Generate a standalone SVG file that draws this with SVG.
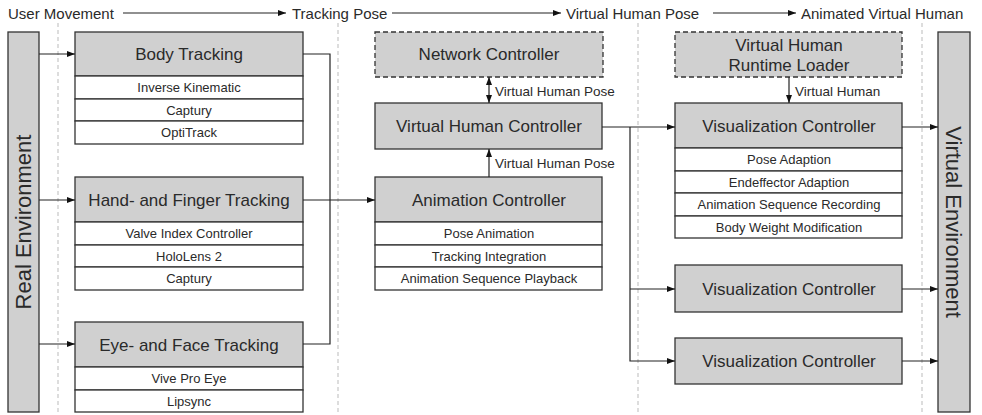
<svg xmlns="http://www.w3.org/2000/svg" width="982" height="415" viewBox="0 0 982 415">
<defs>
<marker id="ah" viewBox="0 0 8 6" refX="8" refY="3" markerWidth="8" markerHeight="6" markerUnits="userSpaceOnUse" orient="auto-start-reverse"><path d="M0,0 L8,3 L0,6 z" fill="#111"/></marker>
</defs>
<style>
text{font-family:"Liberation Sans",Arial,sans-serif;fill:#2a2a2a}
.hd{fill:#d0d0d0;stroke:#333;stroke-width:1.3}
.dh{fill:#d0d0d0;stroke:#333;stroke-width:1.3;stroke-dasharray:5,3}
.row{fill:#fff;stroke:#333;stroke-width:1.3}
.ht{font-size:17px;text-anchor:middle}
.rt{font-size:13px;text-anchor:middle}
.lt{font-size:13.5px}
.top{font-size:15px}
.grid{stroke:#bbb;stroke-width:1;stroke-dasharray:4,3;fill:none}
.c{fill:none;stroke:#222;stroke-width:1.2}
.big{font-size:22px;text-anchor:middle}
</style>
<g id="grid">
<line class="grid" x1="58" y1="23" x2="58" y2="415"/>
<line class="grid" x1="338" y1="23" x2="338" y2="415"/>
<line class="grid" x1="638" y1="23" x2="638" y2="415"/>
<line class="grid" x1="922" y1="23" x2="922" y2="415"/>
</g>
<g id="stages">
<text class="top" x="8" y="19">User Movement</text>
<text class="top" x="292" y="19">Tracking Pose</text>
<text class="top" x="566" y="19">Virtual Human Pose</text>
<text class="top" x="801" y="19">Animated Virtual Human</text>
</g>
<g id="real-env">
<rect class="hd" x="8" y="32" width="31" height="380"/>
<text class="big" transform="translate(31,222) rotate(-90)">Real Environment</text>
</g>
<g id="virtual-env">
<rect class="hd" x="938" y="32" width="32" height="380"/>
<text class="big" transform="translate(946,222) rotate(90)">Virtual Environment</text>
</g>
<g id="body-tracking">
<rect class="hd" x="75" y="32" width="228" height="44"/>
<text class="ht" x="189" y="60">Body Tracking</text>
<rect class="row" x="75" y="76" width="228" height="23"/>
<text class="rt" x="189" y="92">Inverse Kinematic</text>
<rect class="row" x="75" y="99" width="228" height="22"/>
<text class="rt" x="189" y="114.5">Captury</text>
<rect class="row" x="75" y="121" width="228" height="23"/>
<text class="rt" x="189" y="137">OptiTrack</text>
</g>
<g id="hand-tracking">
<rect class="hd" x="75" y="177" width="228" height="45"/>
<text class="ht" x="189" y="206">Hand- and Finger Tracking</text>
<rect class="row" x="75" y="222" width="228" height="23"/>
<text class="rt" x="189" y="238">Valve Index Controller</text>
<rect class="row" x="75" y="245" width="228" height="22"/>
<text class="rt" x="189" y="260.5">HoloLens 2</text>
<rect class="row" x="75" y="267" width="228" height="23"/>
<text class="rt" x="189" y="283">Captury</text>
</g>
<g id="eye-tracking">
<rect class="hd" x="75" y="322" width="228" height="45"/>
<text class="ht" x="189" y="351">Eye- and Face Tracking</text>
<rect class="row" x="75" y="367" width="228" height="23"/>
<text class="rt" x="189" y="383">Vive Pro Eye</text>
<rect class="row" x="75" y="390" width="228" height="22"/>
<text class="rt" x="189" y="405.5">Lipsync</text>
</g>
<g id="network-controller">
<rect class="dh" x="375" y="32" width="228" height="45"/>
<text class="ht" x="489" y="60">Network Controller</text>
</g>
<g id="vh-controller">
<rect class="hd" x="375" y="103" width="227" height="46"/>
<text class="ht" x="489" y="132">Virtual Human Controller</text>
</g>
<g id="animation-controller">
<rect class="hd" x="375" y="177" width="227" height="45"/>
<text class="ht" x="489" y="206">Animation Controller</text>
<rect class="row" x="375" y="222" width="227" height="23"/>
<text class="rt" x="489" y="238">Pose Animation</text>
<rect class="row" x="375" y="245" width="227" height="22"/>
<text class="rt" x="489" y="260.5">Tracking Integration</text>
<rect class="row" x="375" y="267" width="227" height="23"/>
<text class="rt" x="489" y="283">Animation Sequence Playback</text>
</g>
<g id="runtime-loader">
<rect class="dh" x="675" y="32" width="227" height="45"/>
<text class="ht" x="789" y="51">Virtual Human</text>
<text class="ht" x="789" y="71">Runtime Loader</text>
</g>
<g id="vis-controller-1">
<rect class="hd" x="675" y="103" width="227" height="45"/>
<text class="ht" x="789" y="132">Visualization Controller</text>
<rect class="row" x="675" y="148" width="227" height="23"/>
<text class="rt" x="789" y="164">Pose Adaption</text>
<rect class="row" x="675" y="171" width="227" height="22"/>
<text class="rt" x="789" y="186.5">Endeffector Adaption</text>
<rect class="row" x="675" y="193" width="227" height="23"/>
<text class="rt" x="789" y="209">Animation Sequence Recording</text>
<rect class="row" x="675" y="216" width="227" height="22"/>
<text class="rt" x="789" y="231.5">Body Weight Modification</text>
</g>
<g id="vis-controller-2">
<rect class="hd" x="675" y="265" width="227" height="47"/>
<text class="ht" x="789" y="295">Visualization Controller</text>
</g>
<g id="vis-controller-3">
<rect class="hd" x="675" y="338" width="227" height="46"/>
<text class="ht" x="789" y="367">Visualization Controller</text>
</g>
<g id="connectors">
<path class="c" d="M123,13 H286" marker-end="url(#ah)"/>
<path class="c" d="M392,13 H561" marker-end="url(#ah)"/>
<path class="c" d="M713,13 H796" marker-end="url(#ah)"/>
<path class="c" d="M39,54 H75" marker-end="url(#ah)"/>
<path class="c" d="M39,200 H75" marker-end="url(#ah)"/>
<path class="c" d="M39,344 H75" marker-end="url(#ah)"/>
<path class="c" d="M303,54 H330 V344 H303"/>
<path class="c" d="M303,200 H375" marker-end="url(#ah)"/>
<path class="c" d="M489,177 V149" marker-end="url(#ah)"/>
<path class="c" d="M489,77 V103" marker-start="url(#ah)" marker-end="url(#ah)"/>
<path class="c" d="M602,127 H675" marker-end="url(#ah)"/>
<path class="c" d="M630,127 V361 H675" marker-end="url(#ah)"/>
<path class="c" d="M630,289 H675" marker-end="url(#ah)"/>
<path class="c" d="M789,77 V103" marker-end="url(#ah)"/>
<path class="c" d="M902,127 H938" marker-end="url(#ah)"/>
<path class="c" d="M902,289 H938" marker-end="url(#ah)"/>
<path class="c" d="M902,361 H938" marker-end="url(#ah)"/>
<text class="lt" x="495" y="96">Virtual Human Pose</text>
<text class="lt" x="495" y="168">Virtual Human Pose</text>
<text class="lt" x="795" y="96">Virtual Human</text>
</g>
</svg>
